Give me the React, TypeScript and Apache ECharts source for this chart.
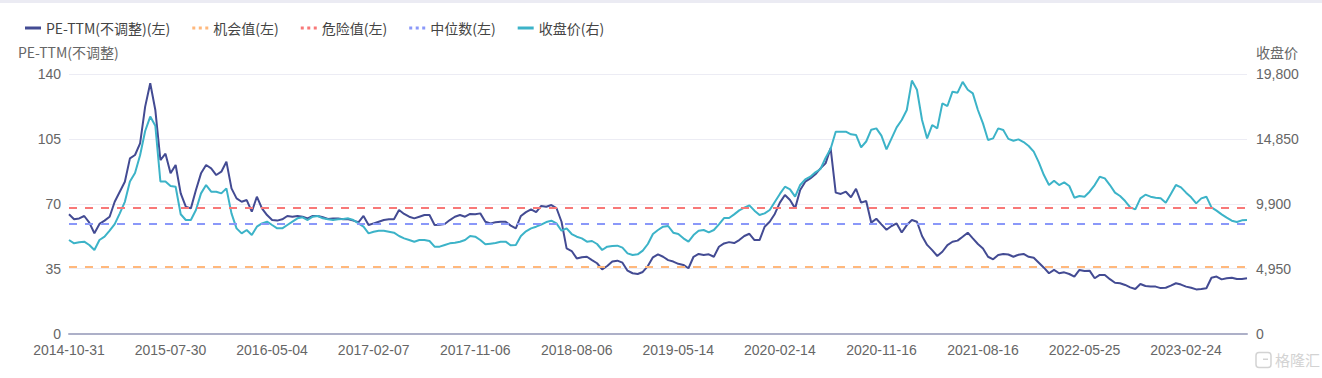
import React, { useEffect, useRef } from 'react';
import * as echarts from 'echarts';

// Category tick labels (one every LABEL_STEP samples)
const tickLabels = [
  '2014-10-31', '2015-07-30', '2016-05-04', '2017-02-07', '2017-11-06', '2018-08-06',
  '2019-05-14', '2020-02-14', '2020-11-16', '2021-08-16', '2022-05-25', '2023-02-24',
];
const LABEL_STEP = 20;

// PE-TTM (unadjusted), left axis
const peTTM = [
  64.3, 61.6, 62.1, 63.4, 59.8, 54.1, 59.1, 60.9, 63.0, 71.1,
  76.5, 81.9, 94.5, 96.3, 102.6, 122.4, 135.0, 120.6, 93.6, 97.0,
  86.4, 90.9, 75.6, 68.4, 67.5, 77.4, 86.4, 90.9, 89.1, 85.5,
  87.3, 92.7, 78.3, 72.9, 71.1, 72.0, 65.7, 73.8, 67.5, 63.9,
  61.2, 60.9, 61.6, 63.4, 63.0, 63.4, 63.0, 62.1, 63.4, 63.4,
  62.7, 61.8, 62.1, 62.0, 61.6, 61.6, 60.9, 60.0, 63.4, 58.5,
  59.4, 60.3, 61.2, 61.6, 61.6, 66.6, 64.5, 63.0, 62.1, 63.0,
  63.9, 63.9, 58.5, 58.7, 59.1, 61.2, 63.0, 63.9, 63.0, 64.5,
  64.3, 64.8, 60.3, 59.4, 60.0, 60.3, 60.3, 58.2, 56.7, 63.4,
  65.5, 67.0, 65.5, 68.8, 68.4, 69.3, 67.7, 60.3, 45.9, 44.5,
  40.5, 41.1, 41.4, 39.6, 37.9, 34.6, 36.4, 38.8, 39.3, 38.2,
  33.9, 32.5, 32.1, 33.2, 36.4, 41.1, 42.7, 41.4, 39.6, 38.8,
  37.6, 37.0, 35.2, 41.4, 42.9, 42.4, 42.7, 41.4, 46.8, 48.6,
  49.3, 48.8, 50.4, 52.6, 53.8, 50.4, 50.4, 57.6, 60.3, 64.5,
  70.6, 74.7, 72.0, 67.5, 77.4, 81.9, 83.7, 85.9, 89.1, 91.8,
  100.0, 76.0, 75.3, 76.5, 73.5, 78.1, 70.6, 71.5, 59.8, 61.9,
  58.9, 56.0, 58.0, 59.4, 54.5, 58.5, 61.2, 60.3, 52.6, 47.8,
  45.0, 41.8, 44.1, 47.7, 49.5, 50.1, 52.2, 54.4, 51.3, 48.3,
  45.9, 41.4, 40.0, 42.4, 42.9, 42.6, 41.4, 42.5, 42.9, 41.4,
  40.9, 38.2, 35.5, 32.5, 34.3, 32.5, 33.0, 32.1, 30.7, 34.3,
  33.7, 33.9, 29.8, 31.6, 31.6, 29.3, 27.4, 27.1, 26.2, 24.9,
  24.0, 26.7, 25.6, 25.4, 25.3, 24.5, 24.7, 25.8, 27.1, 26.4,
  25.3, 24.7, 23.8, 24.0, 24.4, 30.1, 30.7, 29.2, 29.8, 30.1,
  29.4, 29.4, 29.8,
];

// Closing price, right axis
const closePrice = [
  7133, 6879, 6955, 7006, 6752, 6371, 7133, 7387, 7850, 8350,
  9167, 10050, 11600, 12250, 13600, 15450, 16550, 15850, 11600, 11600,
  11250, 11200, 9100, 8659, 8659, 9422, 10693, 11329, 10820, 10820,
  10693, 11075, 9167, 8023, 7641, 7895, 7514, 8150, 8405, 8532,
  8277, 8023, 8023, 8277, 8532, 8786, 8862, 8659, 8913, 8964,
  8786, 8710, 8659, 8710, 8735, 8786, 8659, 8405, 8150, 7641,
  7768, 7844, 7844, 7768, 7692, 7438, 7260, 7133, 7006, 7133,
  7133, 7057, 6625, 6625, 6752, 6879, 6930, 7006, 7133, 7438,
  7387, 7133, 6803, 6854, 6904, 7006, 7006, 6726, 6752, 7438,
  7794, 8023, 8150, 8303, 8506, 8608, 8405, 7844, 8023, 7590,
  7387, 7260, 7006, 7057, 6828, 6371, 6625, 6675, 6701, 6548,
  6117, 5990, 6041, 6320, 6828, 7590, 7895, 8150, 8201, 7692,
  7590, 7260, 7006, 7514, 7844, 7895, 7717, 7895, 8328, 8812,
  8812, 9091, 9397, 9600, 9778, 9371, 9040, 9167, 9423, 10035,
  10650, 11200, 11000, 10440, 11330, 11763, 11965, 12300, 12550, 13400,
  14100, 15400, 15400, 15400, 15200, 15150, 14200, 14650, 15550, 15650,
  15100, 14050, 14889, 15729, 16288, 17052, 19300, 18600, 16288, 14889,
  15907, 15652, 17560, 17357, 18451, 18375, 19200, 18600, 18324, 17052,
  16035, 14763, 14889, 15652, 15525, 14850, 14712, 14813, 14610, 14305,
  13873, 13059, 12092, 11329, 11660, 11329, 11533, 11253, 10363, 10490,
  10439, 10821, 11329, 11965, 11838, 11329, 10745, 10490, 10109, 9626,
  9473, 10312, 10591, 10439, 10363, 10312, 9982, 10642, 11329, 11151,
  10745, 10389, 9931, 10312, 10439, 9626, 9372, 9091, 8837, 8608,
  8507, 8634, 8659,
];

// Reference levels (left axis)
const opportunityValue = 36.2;
const dangerValue = 67.9;
const medianValue = 59.1;

const leftAxisRange = { min: 0, max: 140, interval: 35 };
const rightAxisRange = { min: 0, max: 19800, interval: 4950 };

const FONT = "'Noto Sans CJK SC', 'Noto Sans', sans-serif";
const NUM_FONT = "'Liberation Sans', 'Noto Sans', sans-serif";
const DOTS = 'path://M0,0h3v3h-3zM6.5,0h3v3h-3zM13,0h3v3h-3z';

const C_PE = '#434b93';
const C_CLOSE = '#3cb3c8';
const C_OPP = '#ffb87c';
const C_DANGER = '#f87878';
const C_MEDIAN = '#8a98f9';

function refSeries(name: string, value: number, color: string) {
  return {
    name,
    type: 'line',
    yAxisIndex: 0,
    data: [],
    showSymbol: false,
    itemStyle: { color },
    lineStyle: { color, width: 2, type: [8, 8] },
    markLine: {
      silent: true,
      symbol: ['none', 'none'],
      label: { show: false },
      lineStyle: { color, width: 2, type: [8, 8] },
      emphasis: { disabled: true },
      data: [{ yAxis: value }],
    },
  };
}

export default function App() {
  const ref = useRef<HTMLDivElement>(null);
  useEffect(() => {
    const chart = echarts.init(ref.current!, null, { renderer: 'svg' });
    const option: any = {
      animation: false,
      textStyle: { fontFamily: FONT },
      legend: {
        left: 20,
        top: 16,
        itemWidth: 16,
        itemHeight: 3,
        itemGap: 22,
        itemStyle: { borderWidth: 0 },
        textStyle: { fontSize: 14, color: '#444', fontFamily: FONT },
        data: [
          { name: 'PE-TTM(不调整)(左)', icon: 'rect' },
          { name: '机会值(左)', icon: DOTS },
          { name: '危险值(左)', icon: DOTS },
          { name: '中位数(左)', icon: DOTS },
          { name: '收盘价(右)', icon: 'rect' },
        ],
      },
      grid: { left: 69, right: 75, top: 74, bottom: 44.5, containLabel: false },
      xAxis: {
        type: 'value',
        min: 0,
        max: peTTM.length - 1,
        interval: LABEL_STEP,
        axisLine: { show: true, lineStyle: { color: '#adb0c8', width: 2 } },
        axisTick: { show: false },
        splitLine: { show: false },
        axisLabel: {
          color: '#666',
          fontSize: 14,
          lineHeight: 14,
          margin: 9,
          fontFamily: NUM_FONT,
          formatter: (v: number) => {
            const k = Math.round(v / LABEL_STEP);
            return Math.abs(v - k * LABEL_STEP) < 1e-6 && tickLabels[k] ? tickLabels[k] : '';
          },
        },
      },
      yAxis: [
        {
          type: 'value',
          name: 'PE-TTM(不调整)',
          nameGap: 15,
          nameTextStyle: { color: '#666', fontSize: 14, align: 'left', padding: [0, 0, 0, -51] },
          ...leftAxisRange,
          axisLine: { show: false },
          axisTick: { show: false },
          splitLine: { lineStyle: { color: '#ececf4', width: 1 } },
          axisLabel: { color: '#666', fontSize: 14, lineHeight: 14, margin: 8, fontFamily: NUM_FONT },
        },
        {
          type: 'value',
          name: '收盘价',
          nameGap: 15,
          nameTextStyle: { color: '#666', fontSize: 14, align: 'left', padding: [0, 0, 0, 9] },
          ...rightAxisRange,
          axisLine: { show: false },
          axisTick: { show: false },
          splitLine: { show: false },
          axisLabel: {
            color: '#666',
            fontSize: 14,
            lineHeight: 14,
            margin: 9,
            fontFamily: NUM_FONT,
            formatter: (v: number) => v.toLocaleString('en-US'),
          },
        },
      ],
      series: [
        {
          name: 'PE-TTM(不调整)(左)',
          type: 'line',
          yAxisIndex: 0,
          showSymbol: false,
          itemStyle: { color: C_PE },
          lineStyle: { color: C_PE, width: 2 },
          data: peTTM.map((v, i) => [i, v]),
          z: 3,
        },
        refSeries('机会值(左)', opportunityValue, C_OPP),
        refSeries('危险值(左)', dangerValue, C_DANGER),
        refSeries('中位数(左)', medianValue, C_MEDIAN),
        {
          name: '收盘价(右)',
          type: 'line',
          yAxisIndex: 1,
          showSymbol: false,
          itemStyle: { color: C_CLOSE },
          lineStyle: { color: C_CLOSE, width: 2 },
          data: closePrice.map((v, i) => [i, v]),
          z: 4,
        },
      ],
      graphic: [
        { type: 'rect', left: 0, top: 0, shape: { width: 1322, height: 3 }, style: { fill: '#ebebf3' }, silent: true },
        {
          type: 'group',
          right: 2,
          bottom: 8,
          silent: true,
          children: [
            { type: 'rect', x: 0, y: 1, shape: { width: 15, height: 15, r: 3 }, style: { fill: 'none', stroke: '#d3d3d3', lineWidth: 1.5 } },
            { type: 'rect', x: 7, y: 7, shape: { width: 5, height: 1.5 }, style: { fill: '#d3d3d3' } },
            { type: 'text', x: 19, y: 0, style: { text: '格隆汇', fill: '#d3d3d3', fontSize: 15, fontFamily: FONT } },
          ],
        },
      ],
    };
    chart.setOption(option);
    return () => chart.dispose();
  }, []);
  return (
    <div
      ref={ref}
      style={{ position: 'fixed', left: 0, top: 0, width: 1322, height: 378, background: '#fff' }}
    />
  );
}
